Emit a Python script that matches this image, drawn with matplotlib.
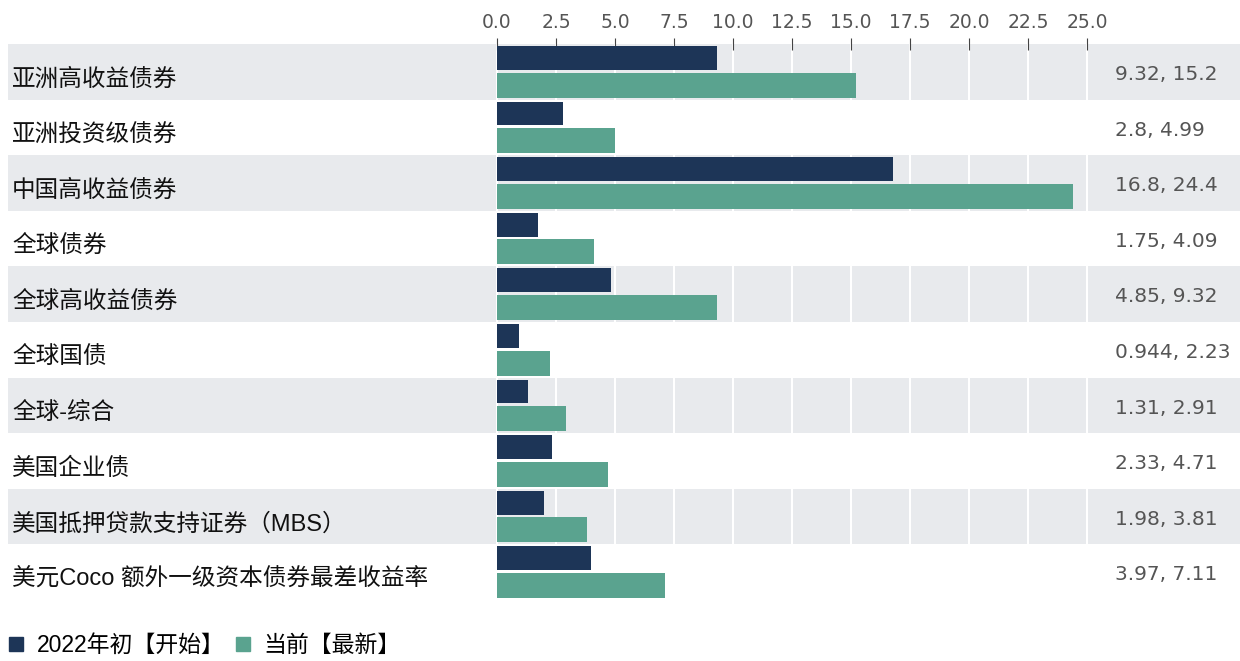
import matplotlib.pyplot as plt
from matplotlib.patches import Patch

plt.rcParams['font.family'] = ['Liberation Sans', 'Noto Sans CJK SC', 'DejaVu Sans']

categories = ['亚洲高收益债券', '亚洲投资级债券', '中国高收益债券', '全球债券', '全球高收益债券',
              '全球国债', '全球-综合', '美国企业债', '美国抵押贷款支持证券（MBS）',
              '美元Coco 额外一级资本债券最差收益率']
start = [9.32, 2.8, 16.8, 1.75, 4.85, 0.944, 1.31, 2.33, 1.98, 3.97]
latest = [15.2, 4.99, 24.4, 4.09, 9.32, 2.23, 2.91, 4.71, 3.81, 7.11]
ticks = [0, 2.5, 5, 7.5, 10, 12.5, 15, 17.5, 20, 22.5, 25]
legend_labels = ['2022年初【开始】', '当前【最新】']

dark = '#1d3557'
green = '#5aa38f'
shade = '#e8eaed'

W, H = 1240, 661
fig = plt.figure(figsize=(12.4, 6.61), dpi=100)
# axes spans from x=8px to right edge; 0 at 497px, 25 at 1087px
ppu = (1087 - 497) / 25
x0 = (8 - 497) / ppu
x1 = (1240 - 497) / ppu
top, bot = 44, 600
ax = fig.add_axes([8 / W, (H - bot) / H, (W - 8) / W, (bot - top) / H])
ax.set_xlim(x0, x1)
ax.set_ylim(len(categories) - 0.5, -0.5)

for i in range(len(categories)):
    if i % 2 == 0:
        ax.axhspan(i - 0.5, i + 0.5, color=shade, lw=0, zorder=0)
for t in ticks:
    ax.axvline(t, color='white', lw=1.5, zorder=1)

ys = list(range(len(categories)))
ax.barh([y - 0.25 for y in ys], start, height=0.43, color=dark, zorder=2)
ax.barh([y + 0.24 for y in ys], latest, height=0.45, color=green, zorder=2)

for i, c in enumerate(categories):
    ax.text(x0 + 4 / ppu, i + 0.14, c, fontsize=17, va='center', ha='left', color='#111111')

vals = []
for i, (a, b) in enumerate(zip(start, latest)):
    t = ax.text((1115 - 497) / ppu, i + 0.05, f'{a:g}, {b:g}', fontsize=14.5,
                va='center', ha='left', color='#555555', family='DejaVu Sans')
    vals.append(t)

ax.xaxis.tick_top()
ax.set_xticks(ticks)
ax.set_xticklabels([f'{t:.1f}' for t in ticks], fontsize=13.5, color='#555555', family='DejaVu Sans')
ax.tick_params(axis='x', direction='inout', length=8, color='#444444', pad=5)
ax.set_yticks([])
for s in ax.spines.values():
    s.set_visible(False)

fig.legend(handles=[Patch(color=dark), Patch(color=green)], labels=legend_labels,
           loc='lower left', bbox_to_anchor=(-0.009, -0.025), ncol=2, frameon=False,
           fontsize=16.5, handlelength=0.6, handleheight=0.6, handletextpad=0.6,
           columnspacing=0.5)

# keep value labels inside the figure
fig.canvas.draw()
r = fig.canvas.get_renderer()
for t in vals:
    bb = t.get_window_extent(r)
    if bb.x1 > W - 4:
        x, y = t.get_position()
        t.set_position((x - (bb.x1 - (W - 5)) / ppu, y))

fig.savefig('out.png', dpi=100)
